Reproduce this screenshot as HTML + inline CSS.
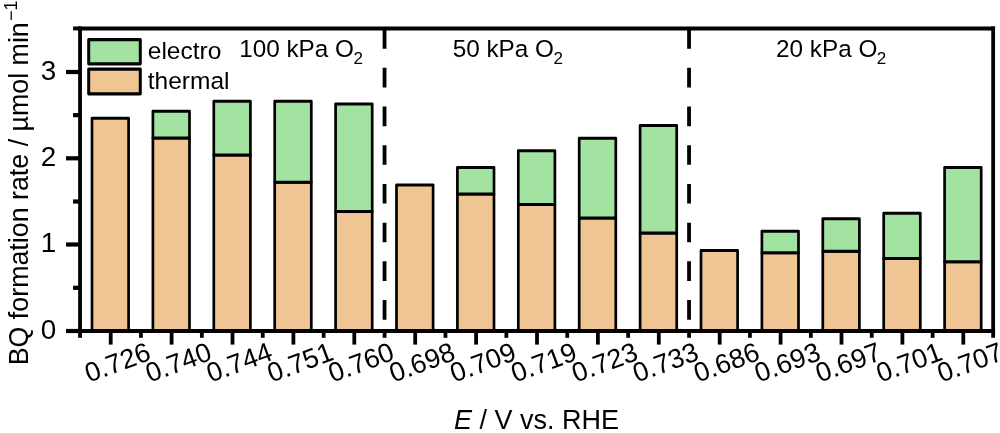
<!DOCTYPE html>
<html lang="en"><head><meta charset="utf-8"><title>BQ formation rate</title>
<style>html,body{margin:0;padding:0;background:#fff;overflow:hidden}svg{display:block;will-change:transform}text{font-family:"Liberation Sans",Arial,Helvetica,sans-serif;fill:#000}</style></head><body>
<svg width="1000" height="433" viewBox="0 0 1000 433">
<rect width="1000" height="433" fill="#fff"/>
<g transform="scale(1,1.1)" stroke="#000" stroke-width="2.7" stroke-linejoin="round">
<rect x="92.00" y="107.455" width="36.60" height="193.455" fill="#f0c594"/>
<rect x="152.90" y="125.455" width="36.60" height="175.455" fill="#f0c594"/>
<rect x="152.90" y="101.136" width="36.60" height="24.318" fill="#a3e3a1"/>
<rect x="213.80" y="140.909" width="36.60" height="160.000" fill="#f0c594"/>
<rect x="213.80" y="92.045" width="36.60" height="48.864" fill="#a3e3a1"/>
<rect x="274.70" y="165.682" width="36.60" height="135.227" fill="#f0c594"/>
<rect x="274.70" y="92.045" width="36.60" height="73.636" fill="#a3e3a1"/>
<rect x="335.60" y="192.273" width="36.60" height="108.636" fill="#f0c594"/>
<rect x="335.60" y="94.545" width="36.60" height="97.727" fill="#a3e3a1"/>
<rect x="396.50" y="168.182" width="36.60" height="132.727" fill="#f0c594"/>
<rect x="457.40" y="176.455" width="36.60" height="124.455" fill="#f0c594"/>
<rect x="457.40" y="152.273" width="36.60" height="24.182" fill="#a3e3a1"/>
<rect x="518.30" y="185.909" width="36.60" height="115.000" fill="#f0c594"/>
<rect x="518.30" y="137.045" width="36.60" height="48.864" fill="#a3e3a1"/>
<rect x="579.20" y="198.182" width="36.60" height="102.727" fill="#f0c594"/>
<rect x="579.20" y="125.682" width="36.60" height="72.500" fill="#a3e3a1"/>
<rect x="640.10" y="211.818" width="36.60" height="89.091" fill="#f0c594"/>
<rect x="640.10" y="114.091" width="36.60" height="97.727" fill="#a3e3a1"/>
<rect x="701.00" y="227.818" width="36.60" height="73.091" fill="#f0c594"/>
<rect x="761.90" y="229.818" width="36.60" height="71.091" fill="#f0c594"/>
<rect x="761.90" y="210.227" width="36.60" height="19.591" fill="#a3e3a1"/>
<rect x="822.80" y="228.364" width="36.60" height="72.545" fill="#f0c594"/>
<rect x="822.80" y="198.864" width="36.60" height="29.500" fill="#a3e3a1"/>
<rect x="883.70" y="235.091" width="36.60" height="65.818" fill="#f0c594"/>
<rect x="883.70" y="193.864" width="36.60" height="41.227" fill="#a3e3a1"/>
<rect x="944.60" y="237.955" width="36.60" height="62.955" fill="#f0c594"/>
<rect x="944.60" y="152.273" width="36.60" height="85.682" fill="#a3e3a1"/>
</g>
<line x1="384.55" y1="29.15" x2="384.55" y2="331.00" stroke="#000" stroke-width="3.8" stroke-dasharray="19.6 19.1"/>
<line x1="689.05" y1="29.15" x2="689.05" y2="331.00" stroke="#000" stroke-width="3.8" stroke-dasharray="19.6 19.1"/>
<g stroke="#000" stroke-width="3.8" fill="none">
<line x1="110.70" y1="331.00" x2="110.70" y2="344.60"/>
<line x1="171.60" y1="331.00" x2="171.60" y2="344.60"/>
<line x1="232.50" y1="331.00" x2="232.50" y2="344.60"/>
<line x1="293.40" y1="331.00" x2="293.40" y2="344.60"/>
<line x1="354.30" y1="331.00" x2="354.30" y2="344.60"/>
<line x1="415.20" y1="331.00" x2="415.20" y2="344.60"/>
<line x1="476.10" y1="331.00" x2="476.10" y2="344.60"/>
<line x1="537.00" y1="331.00" x2="537.00" y2="344.60"/>
<line x1="597.90" y1="331.00" x2="597.90" y2="344.60"/>
<line x1="658.80" y1="331.00" x2="658.80" y2="344.60"/>
<line x1="719.70" y1="331.00" x2="719.70" y2="344.60"/>
<line x1="780.60" y1="331.00" x2="780.60" y2="344.60"/>
<line x1="841.50" y1="331.00" x2="841.50" y2="344.60"/>
<line x1="902.40" y1="331.00" x2="902.40" y2="344.60"/>
<line x1="963.30" y1="331.00" x2="963.30" y2="344.60"/>
<line x1="80.05" y1="331.00" x2="80.05" y2="337.80"/>
<line x1="140.95" y1="331.00" x2="140.95" y2="337.80"/>
<line x1="201.85" y1="331.00" x2="201.85" y2="337.80"/>
<line x1="262.75" y1="331.00" x2="262.75" y2="337.80"/>
<line x1="323.65" y1="331.00" x2="323.65" y2="337.80"/>
<line x1="384.55" y1="331.00" x2="384.55" y2="337.80"/>
<line x1="445.45" y1="331.00" x2="445.45" y2="337.80"/>
<line x1="506.35" y1="331.00" x2="506.35" y2="337.80"/>
<line x1="567.25" y1="331.00" x2="567.25" y2="337.80"/>
<line x1="628.15" y1="331.00" x2="628.15" y2="337.80"/>
<line x1="689.05" y1="331.00" x2="689.05" y2="337.80"/>
<line x1="749.95" y1="331.00" x2="749.95" y2="337.80"/>
<line x1="810.85" y1="331.00" x2="810.85" y2="337.80"/>
<line x1="871.75" y1="331.00" x2="871.75" y2="337.80"/>
<line x1="932.65" y1="331.00" x2="932.65" y2="337.80"/>
<line x1="993.15" y1="331.00" x2="993.15" y2="337.80"/>
<line x1="80.05" y1="26.50" x2="80.05" y2="333.10"/>
<line x1="993.15" y1="26.50" x2="993.15" y2="333.10"/>
</g>
<g stroke="#000" stroke-width="4.2" fill="none">
<line x1="66.05" y1="331.00" x2="80.05" y2="331.00"/>
<line x1="73.05" y1="287.83" x2="80.05" y2="287.83"/>
<line x1="66.05" y1="244.50" x2="80.05" y2="244.50"/>
<line x1="73.05" y1="201.50" x2="80.05" y2="201.50"/>
<line x1="66.05" y1="158.30" x2="80.05" y2="158.30"/>
<line x1="73.05" y1="115.17" x2="80.05" y2="115.17"/>
<line x1="66.05" y1="72.00" x2="80.05" y2="72.00"/>
<line x1="73.05" y1="28.45" x2="80.05" y2="28.45" stroke-width="3.9"/>
<line x1="78.15" y1="28.45" x2="995.05" y2="28.45" stroke-width="3.9"/>
<line x1="78.15" y1="331.00" x2="995.05" y2="331.00"/>
</g>
<text x="56.3" y="338.90" font-size="27.8" text-anchor="end">0</text>
<text x="56.3" y="252.40" font-size="27.8" text-anchor="end">1</text>
<text x="56.3" y="166.20" font-size="27.8" text-anchor="end">2</text>
<text x="56.3" y="79.90" font-size="27.8" text-anchor="end">3</text>
<text transform="translate(152.40,359.10) rotate(-20.5)" font-size="27.1" text-anchor="end">0.726</text>
<text transform="translate(213.30,359.10) rotate(-20.5)" font-size="27.1" text-anchor="end">0.740</text>
<text transform="translate(274.20,359.10) rotate(-20.5)" font-size="27.1" text-anchor="end">0.744</text>
<text transform="translate(335.10,359.10) rotate(-20.5)" font-size="27.1" text-anchor="end">0.751</text>
<text transform="translate(396.00,359.10) rotate(-20.5)" font-size="27.1" text-anchor="end">0.760</text>
<text transform="translate(456.90,359.10) rotate(-20.5)" font-size="27.1" text-anchor="end">0.698</text>
<text transform="translate(517.80,359.10) rotate(-20.5)" font-size="27.1" text-anchor="end">0.709</text>
<text transform="translate(578.70,359.10) rotate(-20.5)" font-size="27.1" text-anchor="end">0.719</text>
<text transform="translate(639.60,359.10) rotate(-20.5)" font-size="27.1" text-anchor="end">0.723</text>
<text transform="translate(700.50,359.10) rotate(-20.5)" font-size="27.1" text-anchor="end">0.733</text>
<text transform="translate(761.40,359.10) rotate(-20.5)" font-size="27.1" text-anchor="end">0.686</text>
<text transform="translate(822.30,359.10) rotate(-20.5)" font-size="27.1" text-anchor="end">0.693</text>
<text transform="translate(883.20,359.10) rotate(-20.5)" font-size="27.1" text-anchor="end">0.697</text>
<text transform="translate(944.10,359.10) rotate(-20.5)" font-size="27.1" text-anchor="end">0.701</text>
<text transform="translate(1005.00,359.10) rotate(-20.5)" font-size="27.1" text-anchor="end">0.707</text>
<g transform="scale(1,1.1)" stroke="#000" stroke-width="3" stroke-linejoin="round">
<rect x="88.7" y="36.045" width="51.6" height="22.000" fill="#a3e3a1"/>
<rect x="88.7" y="62.864" width="51.6" height="22.455" fill="#f0c594"/>
</g>
<text x="147.8" y="59" font-size="24.5">electro</text>
<text x="147.8" y="89" font-size="24.5">thermal</text>
<text x="239.2" y="57.3" font-size="24.3">100 kPa O<tspan font-size="17" dx="-0.6" dy="6.5">2</tspan></text>
<text x="452.7" y="57.3" font-size="24.3">50 kPa O<tspan font-size="17" dx="-0.6" dy="6.5">2</tspan></text>
<text x="776" y="57.3" font-size="24.3">20 kPa O<tspan font-size="17" dx="-0.6" dy="6.5">2</tspan></text>
<text transform="translate(28.3,365.3) rotate(-90)" font-size="26.81">BQ formation rate / µmol min<tspan font-size="18" dx="1.2" dy="-11.7">−1</tspan></text>
<text x="454" y="429.3" font-size="27"><tspan font-style="italic">E</tspan> / V vs. RHE</text>
</svg></body></html>
